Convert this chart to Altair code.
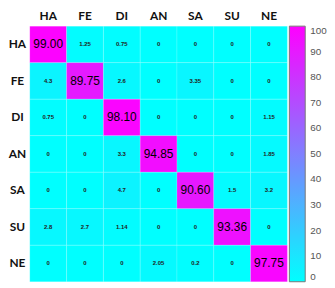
import altair as alt
import pandas as pd

classes = ["HA", "FE", "DI", "AN", "SA", "SU", "NE"]
row_HA = [99.00, 1.25, 0.75, 0, 0, 0, 0]
row_FE = [4.3, 89.75, 2.6, 0, 3.35, 0, 0]
row_DI = [0.75, 0, 98.10, 0, 0, 0, 1.15]
row_AN = [0, 0, 3.3, 94.85, 0, 0, 1.85]
row_SA = [0, 0, 4.7, 0, 90.60, 1.5, 3.2]
row_SU = [2.8, 2.7, 1.14, 0, 0, 93.36, 0]
row_NE = [0, 0, 0, 2.05, 0.2, 0, 97.75]
matrix = [row_HA, row_FE, row_DI, row_AN, row_SA, row_SU, row_NE]
legend_ticks = [0, 10, 20, 30, 40, 50, 60, 70, 80, 90, 100]

records = []
for i, r in enumerate(classes):
    for j, c in enumerate(classes):
        v = matrix[i][j]
        diag = i == j
        records.append({
            "row": r,
            "col": c,
            "value": v,
            "label": f"{v:.2f}" if diag else f"{v:g}",
            "diag": diag,
        })
df = pd.DataFrame(records)

FONT = "Lato"

xenc = alt.X("col:N", sort=classes, title=None,
             scale=alt.Scale(paddingInner=0, paddingOuter=0),
             axis=alt.Axis(orient="top", ticks=False, domain=False, labelAngle=0,
                           labelFontSize=12, labelFontWeight="bold", labelFont=FONT,
                           labelColor="#111", labelPadding=4))
yenc = alt.Y("row:N", sort=classes, title=None,
             scale=alt.Scale(paddingInner=0, paddingOuter=0),
             axis=alt.Axis(ticks=False, domain=False, labelFontSize=12,
                           labelFontWeight="bold", labelFont=FONT, labelColor="#111",
                           labelAlign="center", labelPadding=13))

base = alt.Chart(df).encode(x=xenc, y=yenc)

rects = base.mark_rect(stroke="#ffffff", strokeWidth=0.3, strokeOpacity=0.5).encode(
    color=alt.Color("value:Q",
                    scale=alt.Scale(domain=[0, 100], range=["#00ffff", "#ff00ff"],
                                    interpolate="rgb"),
                    legend=alt.Legend(title=None, orient="right", offset=2,
                                      gradientLength=258, gradientThickness=16,
                                      gradientStrokeColor="#777", gradientStrokeWidth=1,
                                      values=legend_ticks, labelFontSize=10,
                                      labelColor="#555", labelFont="Liberation Sans",
                                      labelOverlap=False, labelOffset=5, padding=0))
)

small = base.transform_filter("!datum.diag").mark_text(
    fontSize=6, fontWeight="bold", color="#222", font="Liberation Sans"
).encode(text="label:N")

big = base.transform_filter("datum.diag").mark_text(
    fontSize=12, color="#000", font="Liberation Sans"
).encode(text="label:N")

chart = alt.layer(rects, small, big).properties(
    width=260, height=258,
    autosize=alt.AutoSizeParams(type="none"),
    padding={"left": 22, "top": 17, "right": 40, "bottom": 5},
).configure_view(stroke=None)

chart.save("out.html", embed_options={"renderer": "svg", "actions": False})
